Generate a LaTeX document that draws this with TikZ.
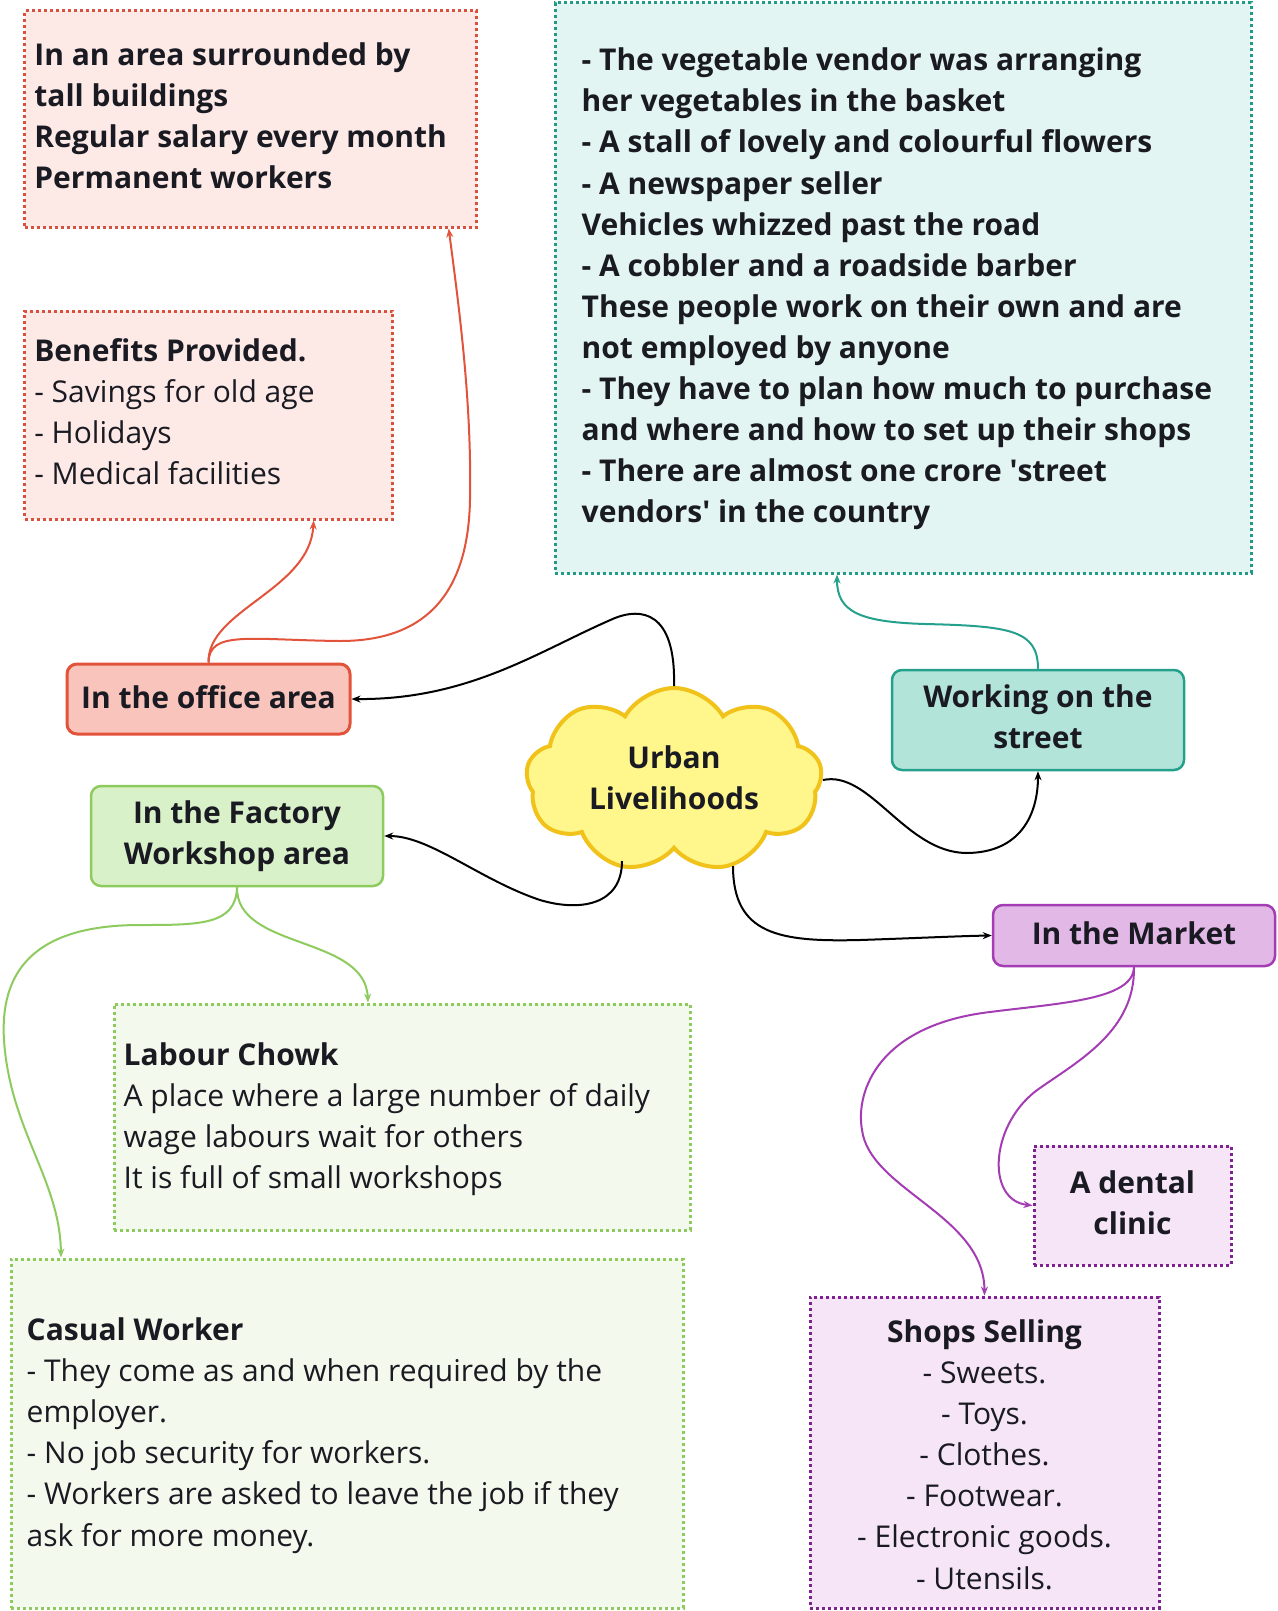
\documentclass[tikz,border=0pt]{standalone}
\usepackage{fontspec}
\setmainfont{Open Sans}
\usetikzlibrary{shapes.symbols,arrows.meta,calc}

\definecolor{offLine}{HTML}{E2533B}
\definecolor{offFill}{HTML}{F8C4BC}
\definecolor{offPale}{HTML}{FDEAE7}
\definecolor{offDot}{HTML}{D9503C}
\definecolor{strLine}{HTML}{25A08C}
\definecolor{strFill}{HTML}{B3E4DA}
\definecolor{strPale}{HTML}{E3F5F2}
\definecolor{strDot}{HTML}{229A86}
\definecolor{facLine}{HTML}{8DCB5F}
\definecolor{facFill}{HTML}{D9F1C9}
\definecolor{facPale}{HTML}{F3F9EC}
\definecolor{mktLine}{HTML}{A43DB3}
\definecolor{mktFill}{HTML}{E2B8E7}
\definecolor{mktPale}{HTML}{F5E5F7}
\definecolor{mktDot}{HTML}{7E2290}
\definecolor{cloudFill}{HTML}{FFF68C}
\definecolor{cloudLine}{HTML}{F0C21A}
\definecolor{ink}{HTML}{1A1A22}

\tikzset{
  topic/.style={rounded corners=10pt, line width=2.5pt, align=center, inner sep=0pt,
    text=ink, font=\bfseries\fontsize{30}{41.1}\selectfont},
  memo/.style={line width=3pt, dash pattern=on 3pt off 3pt, inner sep=0pt},
  txtb/.style={align=left, inner sep=0pt, text=ink, font=\bfseries\fontsize{30}{41.1}\selectfont},
  txtr/.style={align=left, inner sep=0pt, text=ink, font=\fontsize{30}{41.1}\selectfont},
  link/.style={line width=2pt, -{Stealth[length=9pt,width=7pt]}},
  branch/.style={link, line width=2pt},
}

\begin{document}
\begin{tikzpicture}[x=1pt,y=-1pt]
\fill[white] (0,0) rectangle (1277,1611);
\useasboundingbox (0,0) rectangle (1277,1611);

% ---- note boxes ----
\node[memo, draw=offDot, fill=offPale, minimum width=452pt, minimum height=216pt] (offTxt) at (250.7,119) {};
\node[txtb, anchor=west] (offTxtT) at ([xshift=11pt,yshift=3pt]offTxt.west)
  {In an area surrounded by\\tall buildings\\Regular salary every month\\Permanent workers};

\node[memo, draw=offDot, fill=offPale, minimum width=368pt, minimum height=208pt] (ben) at (208.6,415) {};
\node[txtr, anchor=west] (benT) at ([xshift=11pt,yshift=3pt]ben.west)
  {{\bfseries Benefits Provided.}\\- Savings for old age\\- Holidays\\- Medical facilities};

\node[memo, draw=strDot, fill=strPale, minimum width=696pt, minimum height=570pt] (strTxt) at (903,288) {};
\node[txtb, anchor=west] (strTxtT) at ([xshift=28pt,yshift=-1pt]strTxt.west)
  {- The vegetable vendor was arranging\\her vegetables in the basket\\- A stall of lovely and colourful flowers\\- A newspaper seller\\Vehicles whizzed past the road\\- A cobbler and a roadside barber\\These people work on their own and are\\not employed by anyone\\- They have to plan how much to purchase\\and where and how to set up their shops\\- There are almost one crore \textquotesingle street\\vendors\textquotesingle{} in the country};

\node[memo, draw=facLine, fill=facPale, minimum width=576pt, minimum height=226pt] (labTxt) at (402,1117) {};
\node[txtr, anchor=west] (labTxtT) at ([xshift=11pt,yshift=-2pt]labTxt.west)
  {{\bfseries Labour Chowk}\\A place where a large number of daily\\wage labours wait for others\\It is full of small workshops};

\node[memo, draw=facLine, fill=facPale, minimum width=672pt, minimum height=349pt] (casTxt) at (347,1433.5) {};
\node[txtr, anchor=west] (casTxtT) at ([xshift=17pt,yshift=-2pt]casTxt.west)
  {{\bfseries Casual Worker}\\- They come as and when required by the\\employer.\\- No job security for workers.\\- Workers are asked to leave the job if they\\ask for more money.};

\node[memo, draw=mktDot, fill=mktPale, minimum width=197pt, minimum height=119pt] (dental) at (1132.5,1205.5) {};
\node[txtb, align=center] (dentalT) at ([yshift=3pt]dental.center) {A dental\\clinic};

\node[memo, draw=mktDot, fill=mktPale, minimum width=349pt, minimum height=311pt] (shops) at (984.5,1452.5) {};
\node[txtr, align=center] (shopsT) at ([yshift=-2pt]shops.center)
  {{\bfseries Shops Selling}\\- Sweets.\\- Toys.\\- Clothes.\\- Footwear.\\- Electronic goods.\\- Utensils.};

% ---- topic nodes ----
\node[topic, draw=offLine, fill=offFill, line width=3pt, minimum width=283pt, minimum height=70pt] (office) at (208.5,699) {};
\node[topic, draw=none, fill=none] (officeT) at ([yshift=2pt]office.center) {In the office area};
\node[topic, draw=facLine, fill=facFill, minimum width=292pt, minimum height=100pt] (factory) at (237,836) {In the Factory\\Workshop area};
\node[topic, draw=strLine, fill=strFill, minimum width=292pt, minimum height=100pt] (street) at (1038,720) {};
\node[topic, draw=none, fill=none] (streetT) at ([yshift=3pt]street.center) {Working on the\\street};
\node[topic, draw=mktLine, fill=mktFill, minimum width=282pt, minimum height=61pt] (market) at (1134,935.5) {};
\node[topic, draw=none, fill=none] (marketT) at ([yshift=2pt]market.center) {In the Market};

\node[cloud, cloud puffs=9, cloud puff arc=120, cloud ignores aspect, draw=cloudLine, fill=cloudFill,
      line width=4pt, minimum width=296pt, minimum height=184pt] (cu) at (674,780) {};
\node[align=center, inner sep=0pt, text=ink, font=\bfseries\fontsize{30}{41.1}\selectfont] (cuT)
  at ([yshift=2pt]cu.center) {Urban\\Livelihoods};

% ---- links from the centre ----
\draw[link] (cu.north) .. controls (676,610) and (640,608) .. (615,618)
  .. controls (540,650) and (470,700) .. (office.east);
\draw[link] ([xshift=-52pt,yshift=-81pt]cu.center) .. controls (622,905) and (580,912) .. (540,900)
  .. controls (480,880) and (430,836) .. (factory.east);
\draw[link] (cu.east) .. controls (870,770) and (905,852) .. (966,853)
  .. controls (1020,853) and (1038,815) .. (street.south);
\draw[link] ([xshift=59pt,yshift=-86pt]cu.center) .. controls (733,935) and (780,942) .. (860,940)
  .. controls (920,938) and (960,936) .. (market.west);

% ---- branch links ----
\draw[branch, draw=offLine] (office.north) .. controls (209,630) and (250,640) .. (340,641)
  .. controls (420,641) and (468,600) .. (470,500)
  .. controls (472,400) and (458,300) .. ([xshift=198pt]offTxt.south);
\draw[branch, draw=offLine] (office.north) .. controls (207,610) and (310,590) .. ([xshift=105pt]ben.south);

\draw[branch, draw=strLine] (street.north) .. controls (1038,630) and (1010,626) .. (925,624)
  .. controls (860,622) and (837,612) .. ([xshift=-66pt]strTxt.south);

\draw[branch, draw=facLine] (factory.south) .. controls (236,950) and (365,935) .. ([xshift=-34pt]labTxt.north);
\draw[branch, draw=facLine] (factory.south) .. controls (236,925) and (200,925) .. (140,925)
  .. controls (30,925) and (0,975) .. (4,1040)
  .. controls (10,1130) and (60,1180) .. ([xshift=-286pt]casTxt.north);

\draw[branch, draw=mktLine] (market.south) .. controls (1133,1000) and (1060,1003) .. (990,1012)
  .. controls (880,1025) and (855,1090) .. (862,1130)
  .. controls (870,1190) and (984,1215) .. (shops.north);
\draw[branch, draw=mktLine] (market.south) .. controls (1135,1030) and (1080,1060) .. (1040,1088)
  .. controls (990,1122) and (985,1200) .. (dental.west);
\end{tikzpicture}
\end{document}
